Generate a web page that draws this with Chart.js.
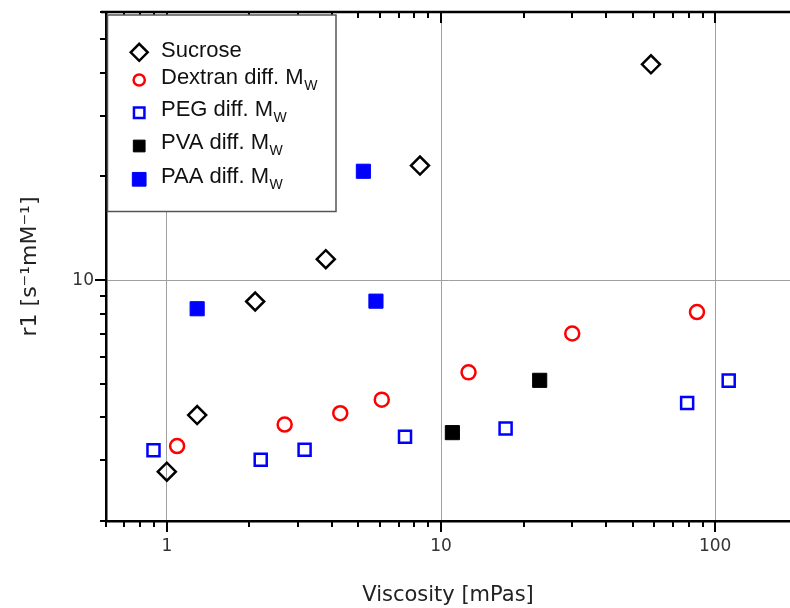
<!DOCTYPE html>
<html>
<head>
<meta charset="utf-8">
<title>r1 vs viscosity</title>
<script src="https://cdn.jsdelivr.net/npm/chart.js@4.4.1/dist/chart.umd.min.js"></script>
<style>
  html, body { margin: 0; padding: 0; background: #fff; overflow: hidden; }
  #wrap { position: relative; width: 790px; height: 608px; }
</style>
</head>
<body>
<div id="wrap"><canvas id="r1Chart" width="790" height="608"></canvas></div>
<script>
// ---- values (viscosity in mPas, r1 in s^-1 mM^-1) ----
const sucroseVisc = [1.0, 1.29, 2.10, 3.80, 8.38, 58.3];
const sucroseR1   = [2.78, 4.06, 8.67, 11.5, 21.5, 42.3];
const dextranVisc = [1.09, 2.69, 4.29, 6.08, 12.6, 30.1, 85.8];
const dextranR1   = [3.30, 3.81, 4.11, 4.50, 5.40, 7.00, 8.08];
const pegVisc = [0.894, 2.20, 3.18, 7.39, 17.2, 79.0, 112];
const pegR1   = [3.21, 3.01, 3.22, 3.51, 3.71, 4.40, 5.11];
const pvaVisc = [11.0, 22.9];
const pvaR1   = [3.61, 5.12];
const paaVisc = [1.29, 5.21, 5.79];
const paaR1   = [8.26, 20.7, 8.69];

// "_W" marks a subscript W in the legend
const seriesLabels = ['Sucrose', 'Dextran diff. M_W', 'PEG diff. M_W', 'PVA diff. M_W', 'PAA diff. M_W'];

const xTicks = [0.6, 0.7, 0.8, 0.9, 1, 2, 3, 4, 5, 6, 7, 8, 9, 10, 20, 30, 40, 50, 60, 70, 80, 90, 100];
const yTicks = [2, 3, 4, 5, 6, 7, 8, 9, 10, 20, 30, 40, 50, 60];
const xMajor = [1, 10, 100];
const yMajor = [10];

function pairs(xs, ys) {
  return xs.map((v, i) => ({ x: v, y: ys[i] }));
}

const AXIS_FONT = '"DejaVu Sans", sans-serif';
const LEGEND_FONT = '"Liberation Sans", Arial, sans-serif';

// ========== tick marks + top axis ==========
const axisFrame = {
  id: 'axisFrame',
  afterDraw(chart) {
    const { ctx, chartArea: a, scales: { x, y } } = chart;
    ctx.save();
    ctx.strokeStyle = '#000';
    ctx.lineWidth = 2.5;
    ctx.beginPath();
    ctx.moveTo(a.left - 5, a.top);
    ctx.lineTo(a.right, a.top);
    ctx.stroke();

    ctx.lineWidth = 2;
    ctx.beginPath();
    xTicks.forEach(v => {
      const px = Math.round(x.getPixelForValue(v));
      const len = xMajor.includes(v) ? 11 : 6;
      ctx.moveTo(px, a.bottom);
      ctx.lineTo(px, a.bottom + len);
      ctx.moveTo(px, a.top);
      ctx.lineTo(px, a.top + len);
    });
    yTicks.forEach(v => {
      const py = Math.round(y.getPixelForValue(v));
      const len = yMajor.includes(v) ? 11 : 6;
      ctx.moveTo(a.left - len, py);
      ctx.lineTo(a.left, py);
    });
    ctx.stroke();
    ctx.restore();
  }
};

// ========== boxed legend with subscripts ==========
const boxLegend = {
  id: 'boxLegend',
  afterDraw(chart) {
    const ctx = chart.ctx;
    const bx = 107.5, by = 15, bw = 228.5, bh = 196.5;
    const markerY = [52.3, 80, 112.7, 146, 179.3];
    const textY = [56.7, 84, 116, 149.3, 183.3];
    const legendRadius = [8.5, 5.6, 7.4, 8.3, 9.7];

    ctx.save();
    ctx.fillStyle = '#fff';
    ctx.fillRect(bx, by, bw, bh);
    ctx.strokeStyle = '#555';
    ctx.lineWidth = 1.5;
    ctx.strokeRect(bx, by, bw, bh);

    chart.data.datasets.forEach((ds, i) => {
      ctx.fillStyle = ds.backgroundColor;
      ctx.strokeStyle = ds.borderColor;
      ctx.lineWidth = ds.borderWidth;
      Chart.helpers.drawPoint(ctx, {
        pointStyle: ds.pointStyle,
        radius: legendRadius[i],
        borderWidth: ds.borderWidth,
        rotation: 0
      }, 139.2, markerY[i]);

      const parts = ds.label.split('_');
      ctx.fillStyle = '#111';
      ctx.textBaseline = 'alphabetic';
      ctx.textAlign = 'left';
      ctx.font = '22px ' + LEGEND_FONT;
      ctx.fillText(parts[0], 161, textY[i]);
      if (parts[1]) {
        const w = ctx.measureText(parts[0]).width;
        ctx.font = '14px ' + LEGEND_FONT;
        ctx.fillText(parts[1], 161 + w + 0.5, textY[i] + 5.5);
      }
    });
    ctx.restore();
  }
};

const gridColor = list => c => (c.tick && list.includes(c.tick.value)) ? '#a0a0a0' : 'rgba(0,0,0,0)';

new Chart(document.getElementById('r1Chart'), {
  type: 'scatter',
  data: {
    datasets: [
      {
        label: seriesLabels[0],
        data: pairs(sucroseVisc, sucroseR1),
        pointStyle: 'rectRot',
        pointRadius: 9,
        borderWidth: 2.5,
        borderColor: '#000',
        backgroundColor: 'rgba(0,0,0,0)'
      },
      {
        label: seriesLabels[1],
        data: pairs(dextranVisc, dextranR1),
        pointStyle: 'circle',
        pointRadius: 7,
        borderWidth: 2.5,
        borderColor: '#ff0000',
        backgroundColor: 'rgba(0,0,0,0)'
      },
      {
        label: seriesLabels[2],
        data: pairs(pegVisc, pegR1),
        pointStyle: 'rect',
        pointRadius: 8.5,
        borderWidth: 2.5,
        borderColor: '#0000ff',
        backgroundColor: 'rgba(0,0,0,0)'
      },
      {
        label: seriesLabels[3],
        data: pairs(pvaVisc, pvaR1),
        pointStyle: 'rect',
        pointRadius: 10,
        borderWidth: 1,
        borderColor: '#000',
        backgroundColor: '#000'
      },
      {
        label: seriesLabels[4],
        data: pairs(paaVisc, paaR1),
        pointStyle: 'rect',
        pointRadius: 10,
        borderWidth: 1,
        borderColor: '#0000ff',
        backgroundColor: '#0000ff'
      }
    ]
  },
  options: {
    responsive: false,
    animation: false,
    devicePixelRatio: 1,
    layout: { autoPadding: false, padding: { top: 12, right: 0, left: 0, bottom: 0 } },
    plugins: {
      legend: { display: false },
      tooltip: { enabled: false }
    },
    scales: {
      x: {
        type: 'logarithmic',
        position: 'bottom',
        min: 0.6,
        max: 187.4,   // the axis runs off the right edge of the original figure
        afterBuildTicks: s => { s.ticks = xTicks.map(v => ({ value: v })); },
        afterFit: s => {
          s.height = 87;
          s.paddingLeft = 0;
          s.paddingRight = 0;
        },
        grid: { color: gridColor(xMajor), lineWidth: 1, drawTicks: false },
        border: { display: true, color: '#000', width: 2.5 },
        ticks: {
          autoSkip: false,
          maxRotation: 0,
          minRotation: 0,
          padding: 15,
          color: '#333',
          font: { family: AXIS_FONT, size: 17 },
          callback: v => xMajor.includes(v) ? String(v) : ''
        },
        title: {
          display: true,
          text: 'Viscosity [mPas]',
          color: '#222',
          font: { family: AXIS_FONT, size: 21 },
          padding: { top: 0, bottom: 0 }
        }
      },
      y: {
        type: 'logarithmic',
        position: 'left',
        min: 2,
        max: 60,
        afterBuildTicks: s => { s.ticks = yTicks.map(v => ({ value: v })); },
        afterFit: s => {
          s.width = 106;
          s.paddingTop = 0;
          s.paddingBottom = 0;
        },
        grid: { color: gridColor(yMajor), lineWidth: 1, drawTicks: false },
        border: { display: true, color: '#000', width: 2.5 },
        ticks: {
          autoSkip: false,
          padding: 12,
          color: '#333',
          font: { family: AXIS_FONT, size: 17 },
          callback: v => yMajor.includes(v) ? String(v) : ''
        },
        title: {
          display: true,
          text: 'r1 [s⁻¹mM⁻¹]',
          color: '#222',
          font: { family: AXIS_FONT, size: 22 },
          padding: { top: 17, bottom: 0 }
        }
      }
    }
  },
  plugins: [axisFrame, boxLegend]
});
</script>
</body>
</html>
